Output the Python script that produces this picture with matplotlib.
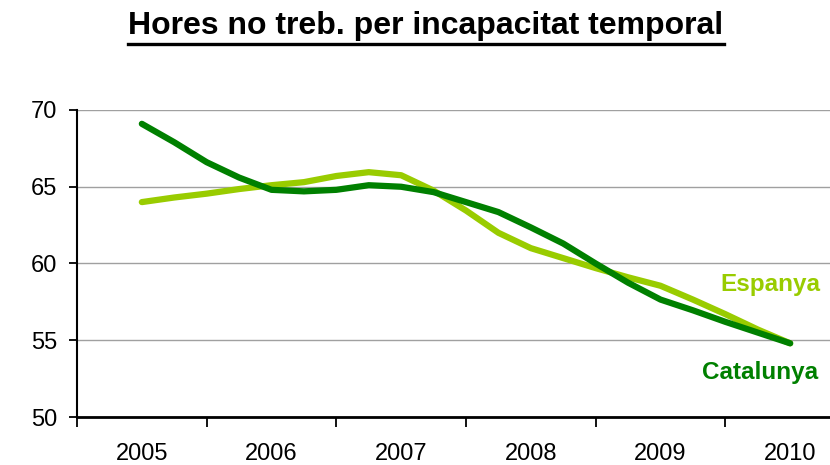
import numpy as np
from matplotlib import pyplot as plt
from matplotlib.lines import Line2D

plt.rcParams['font.family'] = ['Liberation Sans', 'DejaVu Sans']

# year categories on the x axis
years = ['2005', '2006', '2007', '2008', '2009', '2010']

# quarterly values (2005 to 2010, first to last category)
catalunya = [69.1, 67.9, 66.6, 65.6, 64.8, 64.7, 64.8, 65.1, 65.0, 64.65, 64.0,
             63.35, 62.35, 61.3, 60.0, 58.75, 57.65, 56.95, 56.2, 55.5, 54.8]
espanya = [64.0, 64.3, 64.55, 64.85, 65.1, 65.3, 65.7, 65.95, 65.75, 64.75, 63.45,
           62.0, 61.0, 60.35, 59.7, 59.1, 58.55, 57.65, 56.7, 55.7, 54.8]

# positions in category units: one step per quarter
quarters = np.arange(len(catalunya)) / 4.0

col_esp = '#99CC00'
col_cat = '#008000'

fig = plt.figure(figsize=(8.3, 4.65), dpi=100)
# plot area runs past the right edge like in the original picture
ax = fig.add_axes([77 / 830, 48 / 465, 778 / 830, 307 / 465])

ax.plot(quarters, espanya, color=col_esp, lw=4.5, solid_capstyle='round', zorder=3)
ax.plot(quarters, catalunya, color=col_cat, lw=4.5, solid_capstyle='round', zorder=4)

# axes format
ax.set_ylim(50, 70)
ax.set_yticks([50, 55, 60, 65, 70])
ax.set_xlim(-0.5, len(years) - 0.5)
ax.set_xticks(np.arange(len(years) + 1) - 0.5)
ax.set_xticklabels([])
ax.set_xticks(np.arange(len(years)), minor=True)
ax.set_xticklabels(years, minor=True)
ax.tick_params(axis='x', which='major', direction='out', length=7, width=1.3, color='black')
ax.tick_params(axis='x', which='minor', length=0, pad=19, labelsize=17)
ax.tick_params(axis='y', direction='out', length=6, width=1.3, labelsize=17, pad=8)
ax.yaxis.grid(True, color='#A0A0A0', lw=1)
ax.set_axisbelow(True)
for s in ['top', 'right']:
    ax.spines[s].set_visible(False)
ax.spines['left'].set_linewidth(1.5)
ax.spines['bottom'].set_linewidth(2)

# series labels
ax.text(4.85, 58.6, 'Espanya', color=col_esp, fontsize=17.5, fontweight='bold', ha='center', va='center')
ax.text(4.77, 52.9, 'Catalunya', color=col_cat, fontsize=17.5, fontweight='bold', ha='center', va='center')

# underlined title
title = fig.text(426 / 830, 1 - 26 / 465, 'Hores no treb. per incapacitat temporal',
                 fontsize=23, fontweight='bold', ha='center', va='center')
fig.canvas.draw()
bb = title.get_window_extent()
uy = bb.y0 - 3
fig.add_artist(Line2D([bb.x0, bb.x1], [uy, uy], transform=None, color='black', lw=2.4))

fig.savefig('out.png', dpi=100)
